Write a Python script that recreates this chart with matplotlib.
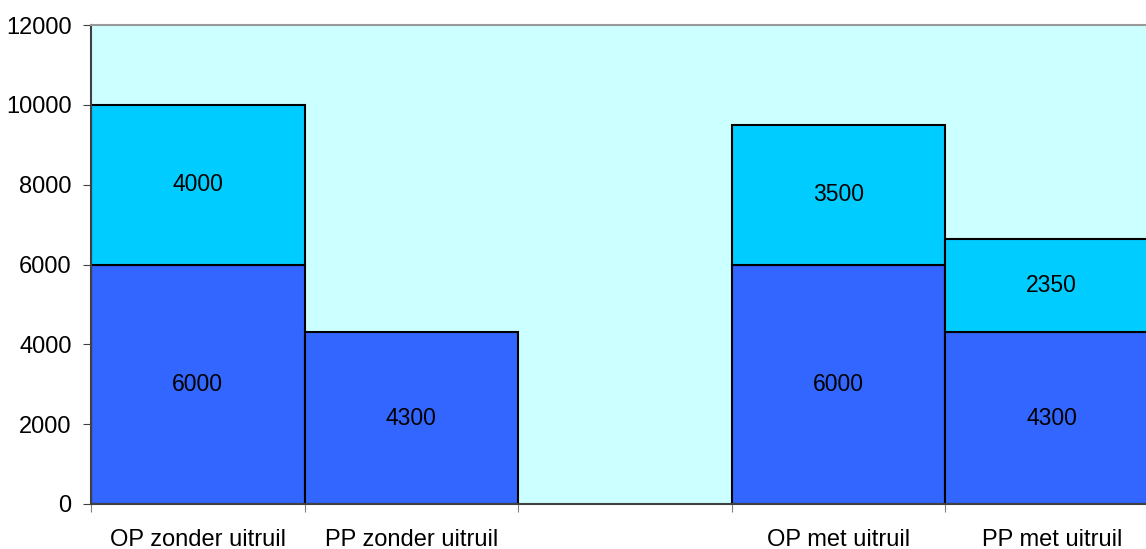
import matplotlib
matplotlib.use("Agg")
import matplotlib.pyplot as plt
import numpy as np

categories = ["OP zonder uitruil", "PP zonder uitruil", "", "OP met uitruil", "PP met uitruil"]
base = [6000, 4300, 0, 6000, 4300]
extra = [4000, 0, 0, 3500, 2350]
yticks = [0, 2000, 4000, 6000, 8000, 10000, 12000]

plt.rcParams['font.family'] = ['Liberation Sans', 'DejaVu Sans']
FS = 17

fig = plt.figure(figsize=(11.46, 5.49), dpi=100)
W, H = 1146, 549
ax = fig.add_axes([91 / W, 45 / H, 1067.5 / W, 479 / H])
ax.set_facecolor('#CCFFFF')

x = np.arange(len(categories)) + 0.5
dark = '#3366FF'
light = '#00CCFF'
for xi, b, e in zip(x, base, extra):
    if b > 0:
        ax.bar(xi, b, width=1.0, color=dark, edgecolor='black', linewidth=1.5, zorder=2)
        ax.text(xi, b / 2, str(b), ha='center', va='center', fontsize=FS - 0.5, zorder=3)
    if e > 0:
        ax.bar(xi, e, bottom=b, width=1.0, color=light, edgecolor='black', linewidth=1.5, zorder=2)
        ax.text(xi, b + e / 2, str(e), ha='center', va='center', fontsize=FS - 0.5, zorder=3)

ax.set_xlim(0, len(categories))
ax.set_ylim(0, 12000)
ax.set_yticks(yticks)
ax.set_yticklabels([str(v) for v in yticks], fontsize=FS)
ax.set_xticks(np.arange(len(categories) + 1))
ax.set_xticklabels([])
ax.set_xticks(x, minor=True)
ax.set_xticklabels(categories, minor=True, fontsize=FS)
ax.tick_params(axis='x', which='minor', length=0, pad=18)
ax.tick_params(axis='x', which='major', length=6, direction='out', color='#808080')
ax.tick_params(axis='y', length=6, direction='out', color='#404040', pad=8)

for s in ['top', 'right']:
    ax.spines[s].set_color('#999999')
    ax.spines[s].set_linewidth(1.5)
ax.spines['left'].set_color('#404040')
ax.spines['bottom'].set_color('#404040')
ax.spines['left'].set_linewidth(1.5)
ax.spines['bottom'].set_linewidth(1.5)

fig.savefig('out.png', dpi=100)
